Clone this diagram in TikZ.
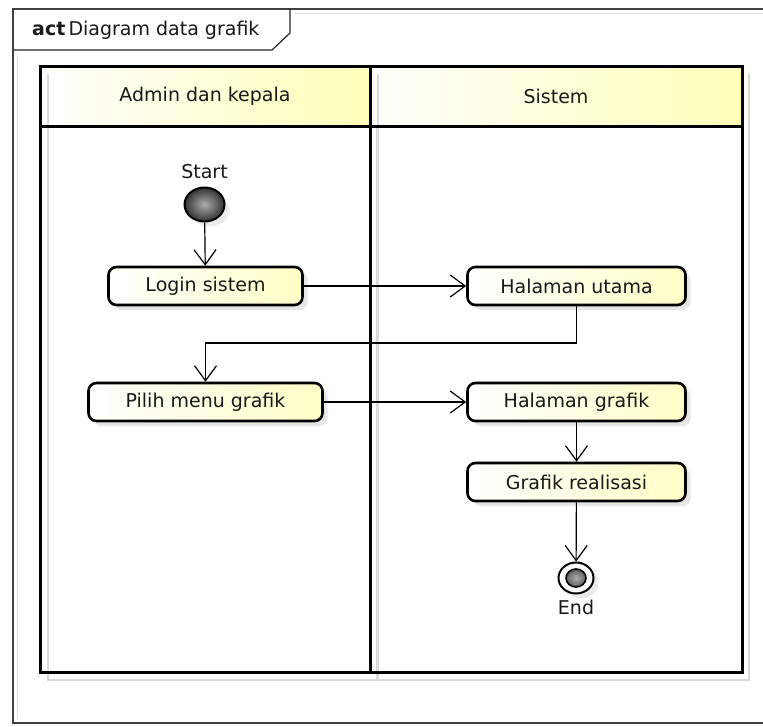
\documentclass[tikz,border=0pt]{standalone}
\usepackage{fontspec}
\setmainfont{DejaVu Sans}
\usetikzlibrary{arrows.meta, shadows, shapes.geometric}

\begin{document}
\begin{tikzpicture}[x=1pt, y=-1pt, >={Straight Barb[length=15pt, width=22pt]},
    every node/.style={font=\fontsize{19}{22}\selectfont, text=black!90},
    action/.style={draw, line width=2.6pt, rounded corners=8pt, minimum height=38pt,
        left color=white, right color=yellow!22,
        drop shadow={shadow xshift=5pt, shadow yshift=-5pt, fill=black!18}},
    lanehead/.style={left color=white, right color=yellow!28},
    flow/.style={->, line width=1.2pt},
    startnode/.style={ellipse, draw, line width=2pt, minimum width=40pt, minimum height=34pt, inner sep=0pt,
        inner color=gray!65, outer color=black!80,
        drop shadow={shadow xshift=5pt, shadow yshift=-5pt, fill=black!15}},
    endnode/.style={ellipse, draw, line width=2pt, minimum width=35pt, minimum height=31pt, inner sep=0pt, fill=white,
        drop shadow={shadow xshift=5pt, shadow yshift=-5pt, fill=black!15},
        path picture={\shade[draw, line width=1.6pt, inner color=gray!65, outer color=black!85]
            (path picture bounding box.center) ellipse (10pt and 9pt);}}]
    \useasboundingbox (0,0) rectangle (763,726);
    \fill[white] (0,0) rectangle (763,726);
    \draw[black!12, line width=1pt] (17,54) -- (17,719);
    \draw[black!12, line width=1pt] (294,13) -- (763,13);
    \draw[black!75, line width=1.4pt] (13,9) rectangle (770,723);
    \draw[black!85, line width=1.2pt] (290,9) -- (290,33) -- (272,50) -- (13,50);
    \node[anchor=west, inner sep=0pt] (title) at (32,30) {\textbf{act}\,Diagram data grafik};
    \foreach \xa/\xb/\name/\txt in {40/370/admin/Admin dan kepala, 370/742/sistem/Sistem}
    {
        \draw[lanehead] (\xa,66) rectangle (\xb,126);
        \draw[black!15, line width=2.5pt] (\xa+8,74) -- (\xa+8,680) -- (\xb+7,680) -- (\xb+7,74);
        \draw[line width=3pt] (\xa,66) rectangle (\xb,672);
        \draw[line width=3pt] (\xa,126) -- (\xb,126);
        \node (\name) at ({(\xa+\xb)/2},96) {\txt};
    }
    \node[startnode, label={[label distance=4pt]above:Start}] (start) at (204.5,204.5) {};
    \node[action, minimum width=194pt] (login) at (205.5,286) {Login sistem};
    \node[action, minimum width=218pt] (utama) at (576.5,286) {Halaman utama};
    \node[action, minimum width=234pt] (pilih) at (205.5,402) {Pilih menu grafik};
    \node[action, minimum width=218pt] (grafik) at (576.5,402) {Halaman grafik};
    \node[action, minimum width=218pt] (realisasi) at (576.5,482) {Grafik realisasi};
    \node[endnode, label={[label distance=2pt]below:End}] (end) at (576,578) {};
    \coordinate (bend) at (576.5,343);
    \draw[flow] (start) -- (login);
    \draw[flow] (login) -- (utama);
    \draw[flow] (utama) -- (bend) -| (pilih);
    \draw[flow] (pilih) -- (grafik);
    \draw[flow] (grafik) -- (realisasi);
    \draw[flow] (realisasi) -- (end);
\end{tikzpicture}
\end{document}
